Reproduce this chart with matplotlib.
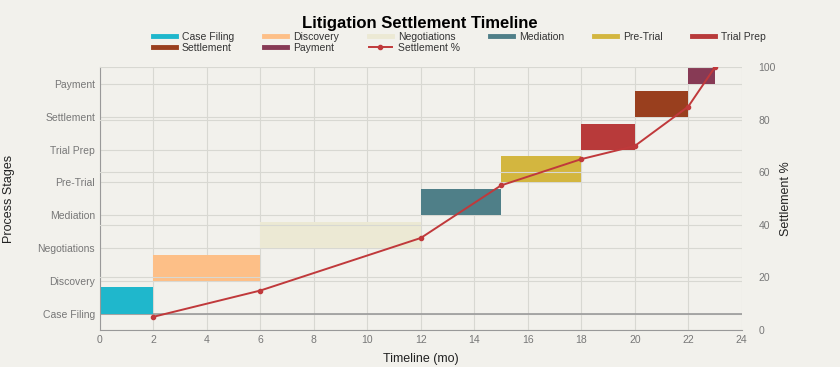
import matplotlib.pyplot as plt
from matplotlib.lines import Line2D

stages = ['Case Filing', 'Discovery', 'Negotiations', 'Mediation',
          'Pre-Trial', 'Trial Prep', 'Settlement', 'Payment']
starts = [0, 2, 6, 12, 15, 18, 20, 22]
durations = [2, 4, 6, 3, 3, 2, 2, 1]
colors = ['#1fb7cc', '#fdbf87', '#ece9d4', '#4f7f88',
          '#d3b63f', '#b83a3a', '#993f1e', '#873a55']

pct_months = [2, 6, 12, 15, 18, 20, 22, 23]
pct_values = [5, 15, 35, 55, 65, 70, 85, 100]

bg = '#f2f1ec'
plt.rcParams['font.family'] = ['Liberation Sans', 'DejaVu Sans']

fig = plt.figure(figsize=(8.4, 3.67), dpi=100, facecolor=bg)
ax = fig.add_axes([0.119, 0.101, 0.764, 0.716], facecolor=bg)

ypos = list(range(len(stages)))
ax.barh(ypos, durations, left=starts, height=0.8, align='edge', color=colors, zorder=2)
ax.axhline(0, color='#9a9a9a', lw=1.2, zorder=1.5)
ax.set_yticks(ypos)
ax.set_yticklabels(stages)
ax.set_ylim(-0.5, 7.52)
ax.set_xlim(0, 24)
ax.set_xticks(range(0, 25, 2))
ax.grid(True, color='#d8d8d2', lw=0.8, zorder=0)
ax.set_axisbelow(True)
ax.set_xlabel('Timeline (mo)', fontsize=9, color='#222222', labelpad=6)
ax.set_ylabel('Process Stages', fontsize=9, color='#222222', labelpad=16)
ax.tick_params(colors='#777777', labelsize=7.5, length=0)
for s in ['top', 'right']:
    ax.spines[s].set_visible(False)
for s in ['left', 'bottom']:
    ax.spines[s].set_color('#999999')

ax2 = ax.twinx()
ax2.plot(pct_months, pct_values, color='#c0393b', lw=1.4, marker='o', ms=3, zorder=3)
ax2.set_ylim(0, 100)
ax2.set_yticks(range(0, 101, 20))
ax2.grid(True, axis='y', color='#d8d8d2', lw=0.8)
ax2.set_ylabel('Settlement %', fontsize=9, color='#222222', labelpad=3)
ax2.tick_params(colors='#777777', labelsize=7.5, length=0, pad=12)
for s in ax2.spines.values():
    s.set_visible(False)

handles = [Line2D([], [], color=c, lw=3.5) for c in colors]
handles.append(Line2D([], [], color='#c0393b', lw=1.4, marker='o', ms=3))
labels = stages + ['Settlement %']
order = [0, 6, 1, 7, 2, 8, 3, 4, 5]
fig.legend([handles[i] for i in order], [labels[i] for i in order],
           loc='upper left', bbox_to_anchor=(0.182, 0.82, 0.73, 0.094),
           mode='expand', ncol=6,
           frameon=False, fontsize=7.5, labelcolor='#333333',
           handlelength=2.2, handletextpad=0.6, borderaxespad=0,
           borderpad=0, labelspacing=0.1)

fig.suptitle('Litigation Settlement Timeline', fontsize=12, fontweight='bold',
             y=0.957, x=0.5)

fig.savefig('out.png', dpi=100, facecolor=bg)
